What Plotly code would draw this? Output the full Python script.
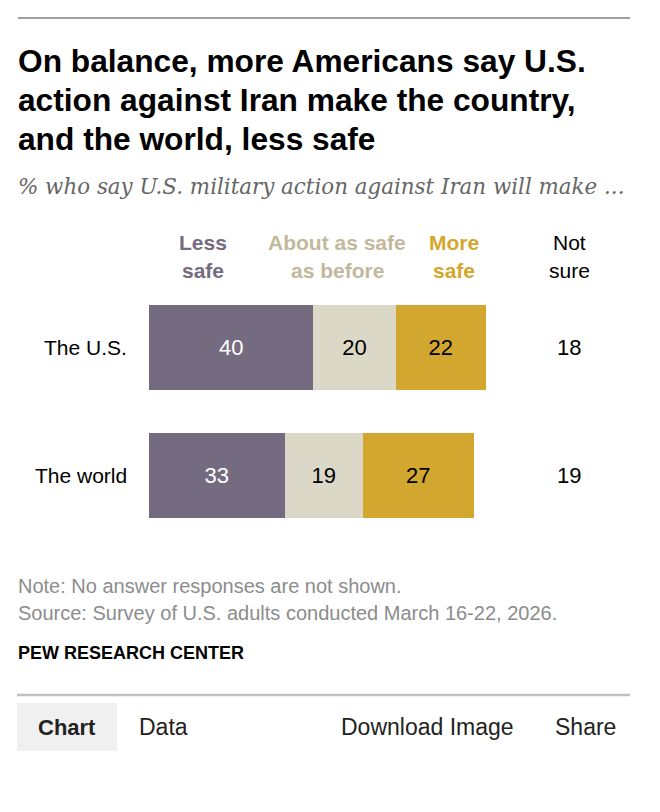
import plotly.graph_objects as go

# Datos
rows = ["The U.S.", "The world"]
less_safe = [40, 33]
same_safe = [20, 19]
more_safe = [22, 27]
not_sure = [18, 19]

series_names = ["Less safe", "About as safe as before", "More safe"]
series_vals = [less_safe, same_safe, more_safe]
bar_colors = ["#756b80", "#dcd8c8", "#d1a730"]
text_colors = ["white", "black", "black"]

# la página html deja 8px de margen en el body
OFF = 8
W, H = 660 - OFF, 812 - OFF
PX_PER_UNIT = 4.11
BAR_LEFT = 149 - OFF
NOT_SURE_X = 569 - OFF
ROW_STEP = 128
ROW0 = 347.5 - OFF


def px(x):
    return (x - OFF) / W


def py(y):
    return 1 - (y - OFF) / H


fig = go.Figure()

for name, vals, col, tcol in zip(series_names, series_vals, bar_colors, text_colors):
    fig.add_trace(go.Bar(
        y=rows,
        x=vals,
        orientation="h",
        name=name,
        marker=dict(color=col, line=dict(width=0)),
        width=85 / ROW_STEP,
        text=[str(v) for v in vals],
        textposition="inside",
        insidetextanchor="middle",
        textangle=0,
        textfont=dict(family="Liberation Sans, Arial", size=22, color=tcol),
        hoverinfo="skip",
    ))

annotations = []

# Columna "Not sure"
for r, v in zip(rows, not_sure):
    annotations.append(dict(
        x=(NOT_SURE_X - BAR_LEFT) / PX_PER_UNIT, y=r, xref="x", yref="y",
        xanchor="center", yanchor="middle", showarrow=False,
        text=str(v),
        font=dict(family="Liberation Sans, Arial", size=22, color="#000000"),
    ))

# Titulo
title_lines = ["On balance, more Americans say U.S.",
               "action against Iran make the country,",
               "and the world, less safe"]
for i, line in enumerate(title_lines):
    annotations.append(dict(
        x=px(16), y=py(61 + 39 * i), xref="paper", yref="paper",
        xanchor="left", yanchor="middle", showarrow=False,
        text="<b>" + line + "</b>",
        font=dict(family="Liberation Sans, Arial", size=31.7, color="#000000"),
    ))

annotations.append(dict(
    x=px(16), y=py(187), xref="paper", yref="paper",
    xanchor="left", yanchor="middle", showarrow=False,
    text="<i>% who say U.S. military action against Iran will make ...</i>",
    font=dict(family="DejaVu Serif", size=21.4, color="#666666"),
))

# Encabezados de columnas
headers = [
    (203, ["Less", "safe"], "#756b80", True),
    (337, ["About as safe", "as before"], "#c2b99c", True),
    (454, ["More", "safe"], "#d4a72c", True),
    (569, ["Not", "sure"], "#000000", False),
]
for cx, lines, col, bold in headers:
    for i, line in enumerate(lines):
        annotations.append(dict(
            x=px(cx), y=py(242 + 28 * i), xref="paper", yref="paper",
            xanchor="center", yanchor="middle", showarrow=False,
            text=("<b>" + line + "</b>") if bold else line,
            font=dict(family="Liberation Sans, Arial", size=21, color=col),
        ))

# Etiquetas de filas
for r in rows:
    annotations.append(dict(
        x=(129 - OFF - BAR_LEFT) / PX_PER_UNIT, y=r, xref="x", yref="y",
        xanchor="right", yanchor="middle", showarrow=False,
        text=r,
        font=dict(family="Liberation Sans, Arial", size=21, color="#000000"),
    ))

# Notas
for txt, y in [("Note: No answer responses are not shown.", 586),
               ("Source: Survey of U.S. adults conducted March 16-22, 2026.", 613)]:
    annotations.append(dict(
        x=px(16), y=py(y), xref="paper", yref="paper",
        xanchor="left", yanchor="middle", showarrow=False,
        text=txt,
        font=dict(family="Liberation Sans, Arial", size=20, color="#8c8c8c"),
    ))

annotations.append(dict(
    x=px(16), y=py(653), xref="paper", yref="paper",
    xanchor="left", yanchor="middle", showarrow=False,
    text="<b>PEW RESEARCH CENTER</b>",
    font=dict(family="Liberation Sans, Arial", size=18, color="#000000"),
))

# Pestañas inferiores
tabs = [(67, "<b>Chart</b>", "center", 22), (137, "Data", "left", 23),
        (339, "Download Image", "left", 23), (553, "Share", "left", 23)]
for x, txt, anchor, size in tabs:
    annotations.append(dict(
        x=px(x), y=py(727), xref="paper", yref="paper",
        xanchor=anchor, yanchor="middle", showarrow=False,
        text=txt,
        font=dict(family="Liberation Sans, Arial", size=size, color="#222222"),
    ))

shapes = [
    dict(type="line", xref="paper", yref="paper",
         x0=px(18), x1=px(630), y0=py(18), y1=py(18),
         line=dict(color="#808080", width=1.5)),
    dict(type="line", xref="paper", yref="paper",
         x0=px(17), x1=px(630), y0=py(695), y1=py(695),
         line=dict(color="#bfbfbf", width=2.5)),
    dict(type="rect", xref="paper", yref="paper",
         x0=px(17), x1=px(117), y0=py(703), y1=py(751),
         fillcolor="#f0f0f0", line=dict(width=0), layer="below"),
]

fig.update_layout(
    width=W, height=H,
    margin=dict(l=0, r=0, t=0, b=0),
    barmode="stack",
    showlegend=False,
    plot_bgcolor="white",
    paper_bgcolor="white",
    xaxis=dict(range=[-BAR_LEFT / PX_PER_UNIT, (W - BAR_LEFT) / PX_PER_UNIT],
               domain=[0, 1], visible=False, fixedrange=True),
    yaxis=dict(range=[(H - ROW0) / ROW_STEP, -ROW0 / ROW_STEP], domain=[0, 1],
               categoryorder="array", categoryarray=rows,
               visible=False, fixedrange=True),
    annotations=annotations,
    shapes=shapes,
    uniformtext=dict(mode="show", minsize=10),
)

fig.write_html("out.html", config={"displayModeBar": False})
